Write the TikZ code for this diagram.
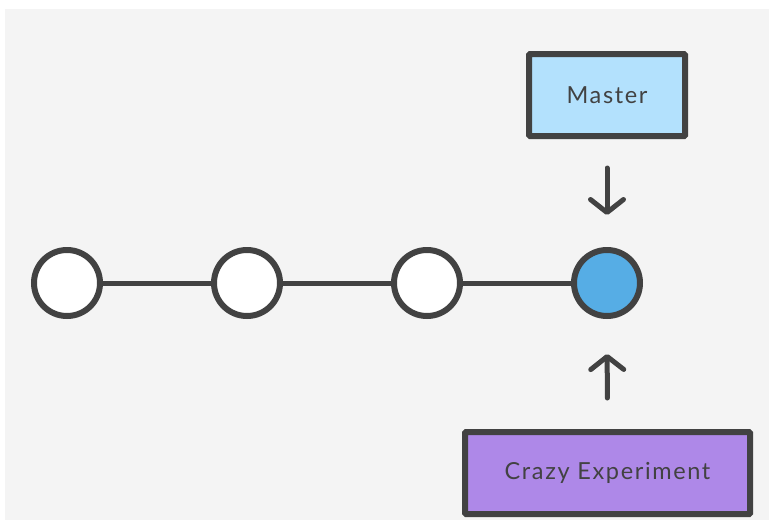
\documentclass[tikz,border=0pt]{standalone}
\usepackage{fontspec}
\setmainfont{Lato}[LetterSpace=7]
\usetikzlibrary{arrows.meta}
\definecolor{bg}{HTML}{F4F4F4}
\definecolor{ink}{HTML}{424242}
\definecolor{masterfill}{HTML}{B3E1FD}
\definecolor{crazyfill}{HTML}{AE88E8}
\definecolor{headfill}{HTML}{56ADE5}
\begin{document}
\begin{tikzpicture}[x=1pt,y=-1pt,
  commit/.style={circle,draw=ink,line width=6pt,fill=white,minimum size=66pt,inner sep=0pt},
  branch/.style={rectangle,draw=ink,line width=6pt,rounded corners=1pt,font=\fontsize{23.5}{26}\selectfont,text=ink,inner sep=0pt},
  link/.style={draw=ink,line width=5pt},
  pointer/.style={draw=ink,line width=5pt,line cap=round,-{Straight Barb[length=13pt,width=33pt,line cap=round,line join=round]}}
]
\useasboundingbox (0,0) rectangle (769,531);
\fill[bg] (5,9) rectangle (769,520);
\node[commit] (c1) at (67,283) {};
\node[commit] (c2) at (247,283) {};
\node[commit] (c3) at (427,283) {};
\node[commit,fill=headfill] (c4) at (607,283) {};
\draw[link] (c1) -- (c2);
\draw[link] (c2) -- (c3);
\draw[link] (c3) -- (c4);
\node[branch,fill=masterfill,minimum width=156pt,minimum height=82pt] (master) at (607,95) {Master};
\node[branch,fill=crazyfill,minimum width=285pt,minimum height=82pt] (crazy) at (607.5,473) {Crazy Experiment};
\draw[pointer,shorten <=29pt,shorten >=32pt] (master.south) -- (c4.north);
\draw[pointer,shorten <=31pt,shorten >=35pt] (crazy.north) -- (c4.south);
\end{tikzpicture}
\end{document}
